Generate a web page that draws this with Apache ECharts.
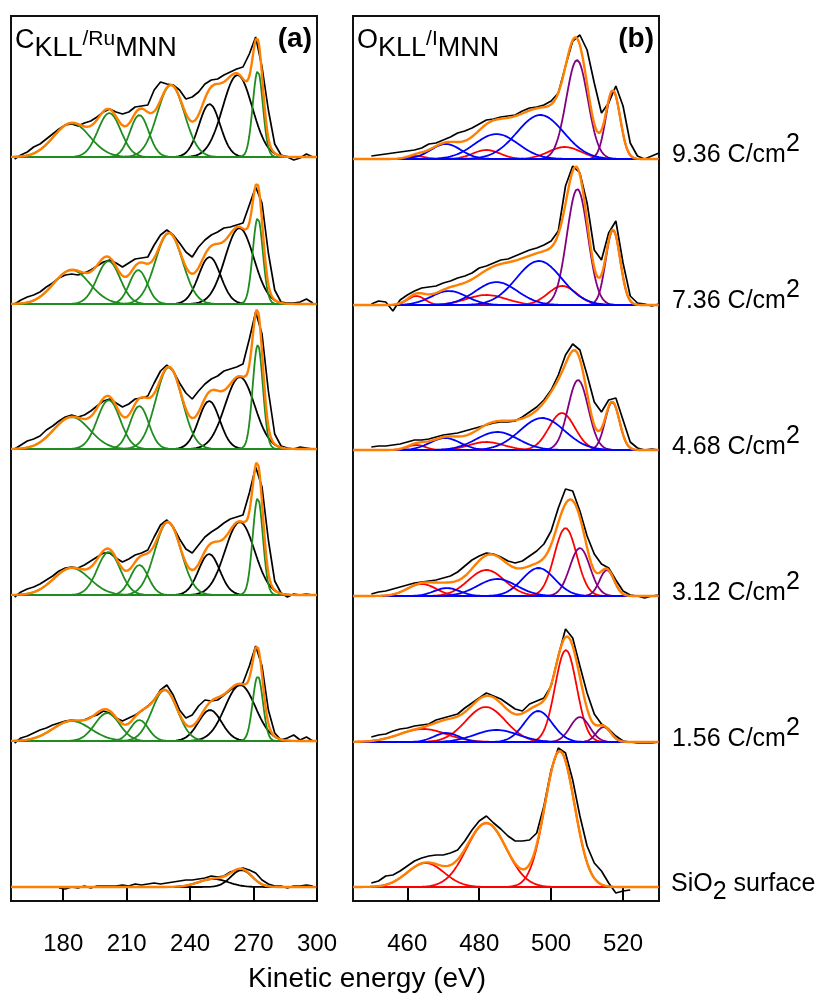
<!DOCTYPE html>
<html><head><meta charset="utf-8">
<script src="https://cdn.jsdelivr.net/npm/echarts@6/dist/echarts.min.js"></script>
<style>html,body{margin:0;padding:0;background:#fff}#c{width:823px;height:996px}</style>
</head><body><div id="c"></div>
<script>
// ---------- axis ranges & ticks ----------
const rangeA = [155.3, 300];
const rangeB = [444.9, 530];
const ticksA = [180, 210, 240, 270, 300];
const ticksB = [460, 480, 500, 520];
const doseLabels = ['9.36', '7.36', '4.68', '3.12', '1.56'];
// vertical stacking offsets of the six spectra (a.u.)
const offsetsA = [730, 583, 438, 292, 146, 0];
const offsetsB = [728, 582, 437, 291, 145, 0];

// ---------- measured spectra (black) ----------
const energyA = [157,160,163,166,169,172,175,178,181,184,187,190,193,196,199,202,205,208,211,214,217,220,223,226,229,232,235,238,241,244,247,250,253,256,259,262,265,268,271,274,277,280,283,286,289,292,295,298];
const countsA_936 = [-2,2,5,10,13,18,23,28,32,33,31,34,36,40,45,48,45,43,45,50,51,52,67,75,73,72,67,58,60,65,73,77,78,82,85,88,90,103,120,90,47,13,2,0,-3,-1,3,0];
const countsA_736 = [0,4,7,9,12,17,21,26,29,30,29,31,34,38,42,44,41,37,41,45,46,47,59,69,74,69,61,52,47,57,64,69,72,76,77,79,81,99,117,101,51,14,2,1,1,2,5,1];
const countsA_468 = [0,4,8,10,13,19,23,28,32,34,32,34,38,43,48,50,46,42,45,50,51,53,66,78,84,78,66,56,50,58,65,70,73,78,80,82,85,110,137,115,58,15,3,1,0,2,1,0];
const countsA_312 = [-2,3,6,8,11,15,19,24,27,28,27,30,34,38,42,42,37,33,36,40,42,45,58,70,75,68,56,46,42,50,58,63,67,72,76,78,80,102,128,108,55,14,2,-2,1,0,1,0];
const countsA_156 = [-2,3,5,8,11,13,16,18,20,21,20,21,24,26,30,28,23,20,23,26,30,35,41,51,56,46,31,23,26,35,41,40,41,46,51,55,58,75,95,75,31,8,1,3,6,1,4,0];
const countsA_sio2 = [null,null,null,null,null,null,null,-1,-2,0,-1,1,-1,1,1,1,1,2,1,3,2,3,4,3,4,5,6,7,7,8,9,11,10,11,15,17,19,17,14,7,3,1,1,-1,1,1,2,1];

const energyB = [450,452,454,456,458,460,462,464,466,468,470,472,474,476,478,480,482,484,486,488,490,492,494,496,498,500,502,504,506,508,510,512,514,516,518,520,522,524,526,528,530];
const countsB_936 = [3,4,5,6,7,8,9,11,15,16,19,22,26,28,31,35,39,40,42,43,44,48,51,52,54,58,66,93,118,124,109,76,46,56,73,53,16,3,0,3,6];
const countsB_736 = [1,4,3,-6,5,10,14,17,18,19,22,24,27,29,32,37,39,42,45,46,49,52,55,57,60,64,74,119,139,132,102,55,45,72,84,42,9,2,1,-1,1];
const countsB_468 = [3,4,4,5,6,8,10,10,11,13,15,16,17,19,21,23,25,27,28,28,29,33,38,43,50,60,75,95,106,100,75,48,38,50,52,30,8,2,0,1,0];
const countsB_312 = [2,4,5,7,9,11,13,14,15,16,18,20,24,30,36,40,43,42,39,35,33,35,40,45,52,65,88,107,105,85,60,42,32,28,16,5,1,0,-2,0,1];
const countsB_156 = [5,7,8,11,13,14,16,17,18,22,24,26,28,34,39,44,49,46,43,38,33,31,38,41,44,56,86,113,104,76,49,28,18,13,6,1,0,-1,-1,-1,0];
const countsB_sio2 = [4,6,11,12,16,21,26,29,31,32,32,34,37,46,57,66,71,64,58,51,46,46,47,54,81,117,139,134,107,71,41,24,16,4,-6,-4,-3,null,null,null,null];

// ---------- fitted Gaussian components: [centre eV, sigma eV, height] ----------
const peaksA_936_green = [[184,8.5,34],[201.8,5.4,44],[216,4.4,42],[230.9,6.4,72],[272,2.4,86]];
const peaksA_936_black = [[249.2,5,53],[262.4,7,82]];
const peaksA_736_green = [[184,8.5,34],[201.4,5.4,43],[215.5,4.2,34],[230,6.4,71],[272,2.4,86]];
const peaksA_736_black = [[249.2,5.2,47],[263.3,6.8,76]];
const peaksA_468_green = [[184,8.5,32],[201.5,5.4,49],[216,4.4,43],[230,6.2,82],[272,2.4,104]];
const peaksA_468_black = [[249,5,48],[263.5,7,72]];
const peaksA_312_green = [[184,8.5,27],[201.5,5.4,43],[216,4.2,30],[229.5,6.2,73],[272,2.4,97]];
const peaksA_312_black = [[249,5,41],[263.5,7,73]];
const peaksA_156_green = [[184,9,20],[200.8,5.8,28],[216,4.2,21],[228,6,51],[272,2.4,65]];
const peaksA_156_black = [[249.4,5.5,31],[263.7,7.2,56]];
const peaksA_sio2_green = [];
const peaksA_sio2_black = [[251,7,8],[264.3,5,17]];

const peaksB_936_red = [[462.5,2.4,3],[482,3.8,9],[503.8,4.5,12]];
const peaksB_936_blue = [[470.7,4.2,15],[484.8,6.0,25],[497,6.5,44]];
const peaksB_936_purple = [[507.2,3.0,99],[517.2,2.0,68]];
const peaksB_736_red = [[462.5,2.4,9],[482,5.5,10],[503.1,4.0,19]];
const peaksB_736_blue = [[471.6,4.9,14],[484.8,5.8,23],[496.6,6.3,44]];
const peaksB_736_purple = [[507.3,2.9,116],[517.2,2.0,75]];
const peaksB_468_red = [[462.5,2.5,5],[482,4.8,8],[503,3.6,37]];
const peaksB_468_blue = [[470.5,4.2,12],[485,5.8,18],[497.5,6.2,32]];
const peaksB_468_purple = [[507.5,2.8,70],[517,2,48]];
const peaksB_312_red = [[464,4,12],[482,5,26],[504,3.1,68]];
const peaksB_312_blue = [[471,3.5,8],[485,5.4,17],[496.5,4.5,28]];
const peaksB_312_purple = [[508,2.8,48],[515.5,2,26]];
const peaksB_156_red = [[464.4,6.5,13],[481.8,5.5,35],[504.1,3.0,92]];
const peaksB_156_blue = [[470.9,3.5,9],[484.8,6,12],[496.4,3.9,31]];
const peaksB_156_purple = [[508,2.7,25],[514.6,2,15]];
const peaksB_sio2_red = [[465.1,5.1,24],[482,5.5,64],[502.4,4.1,136]];
const peaksB_sio2_blue = [];
const peaksB_sio2_purple = [];

// ---------- build ----------
const FONT = '"Liberation Sans", Arial, sans-serif';
const COL = {green:'#1e8c1e', black:'#000000', red:'#ff0000', blue:'#0000ff', purple:'#800080', fit:'#ff8000', data:'#000000'};

function gauss(p, x){ const d=(x-p[0])/p[1]; return p[2]*Math.exp(-0.5*d*d); }
function sampleGrid(range, step){ const xs=[]; for(let x=range[0]; x<=range[1]+1e-9; x+=step) xs.push(+x.toFixed(3)); return xs; }

const series = [];
function addSpectrum(panel, range, energies, counts, groups, offset){
  series.push({type:'line', xAxisIndex:panel, yAxisIndex:panel, symbol:'none', z:2, silent:true,
    lineStyle:{color:COL.data, width:1.7}, connectNulls:false,
    data: energies.map((e,i)=> counts[i]==null ? [e,null] : [e, offset+counts[i]])});
  const xs = sampleGrid(range, 0.2);
  const all = [];
  groups.forEach(g=>{ g.peaks.forEach(p=>{
    all.push(p);
    series.push({type:'line', xAxisIndex:panel, yAxisIndex:panel, symbol:'none', z:g.z, silent:true,
      lineStyle:{color:COL[g.name], width:1.8},
      data: xs.map(x=>[x, offset+gauss(p,x)])});
  });});
  series.push({type:'line', xAxisIndex:panel, yAxisIndex:panel, symbol:'none', z:6, silent:true,
    lineStyle:{color:COL.fit, width:2.4},
    data: xs.map(x=>[x, offset+all.reduce((s,p)=>s+gauss(p,x),0)])});
}

const specA = [
  [countsA_936, peaksA_936_green, peaksA_936_black],
  [countsA_736, peaksA_736_green, peaksA_736_black],
  [countsA_468, peaksA_468_green, peaksA_468_black],
  [countsA_312, peaksA_312_green, peaksA_312_black],
  [countsA_156, peaksA_156_green, peaksA_156_black],
  [countsA_sio2, peaksA_sio2_green, peaksA_sio2_black]
];
specA.forEach((s,i)=> addSpectrum(0, rangeA, energyA, s[0], [{name:'black',peaks:s[2],z:3},{name:'green',peaks:s[1],z:4}], offsetsA[i]));
const specB = [
  [countsB_936, peaksB_936_red, peaksB_936_blue, peaksB_936_purple],
  [countsB_736, peaksB_736_red, peaksB_736_blue, peaksB_736_purple],
  [countsB_468, peaksB_468_red, peaksB_468_blue, peaksB_468_purple],
  [countsB_312, peaksB_312_red, peaksB_312_blue, peaksB_312_purple],
  [countsB_156, peaksB_156_red, peaksB_156_blue, peaksB_156_purple],
  [countsB_sio2, peaksB_sio2_red, peaksB_sio2_blue, peaksB_sio2_purple]
];
specB.forEach((s,i)=> addSpectrum(1, rangeB, energyB, s[0], [{name:'red',peaks:s[1],z:3},{name:'purple',peaks:s[3],z:4},{name:'blue',peaks:s[2],z:5}], offsetsB[i]));

function xAxisCfg(idx, range, ticks){
  return {gridIndex:idx, type:'value', min:range[0], max:range[1],
    axisLine:{show:false}, splitLine:{show:false},
    axisTick:{show:true, inside:false, length:14, lineStyle:{color:'#000', width:2}, customValues:ticks},
    axisLabel:{show:true, customValues:ticks, fontSize:24, color:'#000', fontFamily:FONT, margin:31}};
}

// ---------- texts (pieces placed side by side, measured with canvas) ----------
const mctx = document.createElement('canvas').getContext('2d');
function tw(t, size, weight){ mctx.font = (weight||'normal')+' '+size+'px '+FONT; return mctx.measureText(t).width; }
function txt(t, x, y, size, extra){
  return {type:'text', x:x, y:y, z:50, silent:true, style:Object.assign({text:t, fontSize:size, fontFamily:FONT, fill:'#000', textAlign:'left', textVerticalAlign:'middle'}, extra||{})};
}
const graphics = [];
function run(x, y, pieces){
  let cx = x;
  pieces.forEach(p=>{ graphics.push(txt(p[0], cx, y+p[2], p[1])); cx += tw(p[0], p[1]); });
}
run(15, 41, [['C',27,0],['KLL',27,8],['/Ru',21,-2],['MNN',27,8]]);
run(357, 41, [['O',27,0],['KLL',27,8],['/I',21,-2],['MNN',27,8]]);
graphics.push(txt('(a)', 312, 39, 28, {fontWeight:'bold', textAlign:'right'}));
graphics.push(txt('(b)', 654, 39, 28, {fontWeight:'bold', textAlign:'right'}));
graphics.push(txt('Kinetic energy (eV)', 367, 979, 28, {textAlign:'center'}));
const labelCenters = [155, 301, 447, 593, 739];
doseLabels.forEach((d,i)=> run(672, labelCenters[i], [[d+' C/cm',25,0],['2',25,-11]]));
run(671, 884, [['SiO',25,0],['2',25,8],[' surface',25,0]]);

const chart = echarts.init(document.getElementById('c'), null, {renderer:'canvas'});
chart.setOption({
  animation:false,
  backgroundColor:'#ffffff',
  grid:[
    {left:11, top:16, width:306, height:885, show:true, borderColor:'#111', borderWidth:2, backgroundColor:'transparent', containLabel:false},
    {left:353, top:16, width:306, height:885, show:true, borderColor:'#111', borderWidth:2, backgroundColor:'transparent', containLabel:false}
  ],
  xAxis:[xAxisCfg(0, rangeA, ticksA), xAxisCfg(1, rangeB, ticksB)],
  yAxis:[
    {gridIndex:0, type:'value', min:-14, max:871, show:false},
    {gridIndex:1, type:'value', min:-14, max:871, show:false}
  ],
  series: series,
  graphic: graphics
});
</script></body></html>
